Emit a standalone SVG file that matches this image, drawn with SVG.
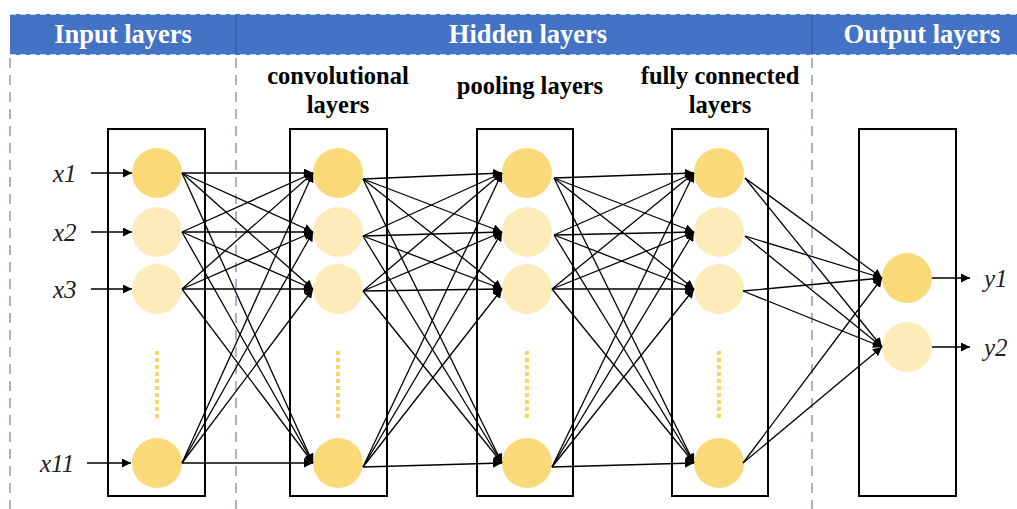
<svg xmlns="http://www.w3.org/2000/svg" width="1017" height="509" viewBox="0 0 1017 509">
<defs>
<marker id="ah" viewBox="0 0 10 10" refX="10" refY="5" markerWidth="9" markerHeight="9" markerUnits="userSpaceOnUse" orient="auto"><path d="M0,0 L10,5 L0,10 z" fill="#000"/></marker>
</defs>
<style>
text{font-family:"Liberation Serif","Times New Roman","DejaVu Serif",serif}
.hdr{font-weight:bold;font-size:26.5px;fill:#fff;text-anchor:middle}
.sub{font-weight:bold;font-size:24.5px;fill:#000;text-anchor:middle}
.var{font-style:italic;font-size:25px;fill:#222}
.box{fill:none;stroke:#000;stroke-width:2}
.dk{fill:#FAD978}
.lt{fill:#FDEBBA}
.sep{stroke:#8C9BB0;stroke-width:1.5;stroke-dasharray:10 7;fill:none}
.e line{stroke:#000;stroke-width:1.3;marker-end:url(#ah)}
.dots{stroke:#F8D46A;stroke-width:4;stroke-dasharray:4 3}
</style>
<rect width="1017" height="509" fill="#fff"/>
<g id="header">
<rect x="10" y="14" width="1007" height="41" fill="#4472C4"/>
<line x1="10" y1="14.5" x2="1017" y2="14.5" stroke="#c9d3e8" stroke-width="1" stroke-dasharray="6 4"/>
<line x1="10" y1="54.5" x2="1017" y2="54.5" stroke="#c9d3e8" stroke-width="1" stroke-dasharray="6 4"/>
<line x1="236" y1="14" x2="236" y2="55" stroke="#2f5597" stroke-width="1"/>
<line x1="812" y1="14" x2="812" y2="55" stroke="#2f5597" stroke-width="1"/>
<text class="hdr" x="123" y="43">Input layers</text>
<text class="hdr" x="528" y="43">Hidden layers</text>
<text class="hdr" x="922" y="43">Output layers</text>
</g>
<g id="separators">
<line class="sep" x1="10" y1="58" x2="10" y2="509"/>
<line class="sep" x1="236" y1="58" x2="236" y2="509"/>
<line class="sep" x1="812" y1="58" x2="812" y2="509"/>
</g>
<g id="labels">
<text class="sub" x="338" y="84">convolutional</text>
<text class="sub" x="338" y="113">layers</text>
<text class="sub" x="530" y="94">pooling layers</text>
<text class="sub" x="720" y="84">fully connected</text>
<text class="sub" x="720" y="113">layers</text>
</g>
<g id="input-layer">
<rect class="box" x="108" y="129" width="97" height="367"/>
<circle class="dk" cx="157" cy="173" r="25"/>
<circle class="lt" cx="157" cy="232" r="25"/>
<circle class="lt" cx="157" cy="289" r="25"/>
<line class="dots" x1="157" y1="351" x2="157" y2="420"/>
<circle class="dk" cx="157" cy="463" r="25"/>
</g>
<g id="conv-layer">
<rect class="box" x="290" y="129" width="97" height="367"/>
<circle class="dk" cx="338" cy="173" r="25"/>
<circle class="lt" cx="338" cy="232" r="25"/>
<circle class="lt" cx="338" cy="289" r="25"/>
<line class="dots" x1="338" y1="351" x2="338" y2="420"/>
<circle class="dk" cx="338" cy="463" r="25"/>
</g>
<g id="pool-layer">
<rect class="box" x="477" y="129" width="96" height="367"/>
<circle class="dk" cx="527" cy="173" r="25"/>
<circle class="lt" cx="527" cy="232" r="25"/>
<circle class="lt" cx="527" cy="289" r="25"/>
<line class="dots" x1="527" y1="351" x2="527" y2="420"/>
<circle class="dk" cx="527" cy="463" r="25"/>
</g>
<g id="fc-layer">
<rect class="box" x="672" y="129" width="96" height="367"/>
<circle class="dk" cx="719" cy="173" r="25"/>
<circle class="lt" cx="719" cy="232" r="25"/>
<circle class="lt" cx="719" cy="289" r="25"/>
<line class="dots" x1="719" y1="351" x2="719" y2="420"/>
<circle class="dk" cx="719" cy="463" r="25"/>
</g>
<g id="output-layer">
<rect class="box" x="859" y="129" width="97" height="367"/>
<circle class="dk" cx="907" cy="278" r="25"/>
<circle class="lt" cx="907" cy="347" r="25"/>
</g>
<g id="io-labels">
<text class="var" x="53" y="182">x1</text>
<text class="var" x="53" y="241">x2</text>
<text class="var" x="53" y="298">x3</text>
<text class="var" x="40" y="472">x11</text>
<text class="var" x="984" y="287">y1</text>
<text class="var" x="984" y="356">y2</text>
</g>
<g id="connectors" class="e">
<line x1="91" y1="173" x2="132" y2="173"/>
<line x1="91" y1="232" x2="132" y2="232"/>
<line x1="91" y1="289" x2="132" y2="289"/>
<line x1="87" y1="463" x2="131" y2="463"/>
<line x1="932" y1="278" x2="970" y2="278"/>
<line x1="932" y1="347" x2="970" y2="347"/>
<line x1="182" y1="173" x2="313" y2="173"/><line x1="182" y1="173" x2="313" y2="232"/><line x1="182" y1="173" x2="313" y2="289"/><line x1="182" y1="173" x2="313" y2="463"/>
<line x1="182" y1="232" x2="313" y2="173"/><line x1="182" y1="232" x2="313" y2="232"/><line x1="182" y1="232" x2="313" y2="289"/><line x1="182" y1="232" x2="313" y2="463"/>
<line x1="182" y1="289" x2="313" y2="173"/><line x1="182" y1="289" x2="313" y2="232"/><line x1="182" y1="289" x2="313" y2="289"/><line x1="182" y1="289" x2="313" y2="463"/>
<line x1="182" y1="463" x2="313" y2="173"/><line x1="182" y1="463" x2="313" y2="232"/><line x1="182" y1="463" x2="313" y2="289"/><line x1="182" y1="463" x2="313" y2="463"/>
<line x1="363" y1="179" x2="502" y2="173"/><line x1="363" y1="179" x2="502" y2="232"/><line x1="363" y1="179" x2="502" y2="289"/><line x1="363" y1="179" x2="502" y2="463"/>
<line x1="363" y1="236" x2="502" y2="173"/><line x1="363" y1="236" x2="502" y2="232"/><line x1="363" y1="236" x2="502" y2="289"/><line x1="363" y1="236" x2="502" y2="463"/>
<line x1="363" y1="291" x2="502" y2="173"/><line x1="363" y1="291" x2="502" y2="232"/><line x1="363" y1="291" x2="502" y2="289"/><line x1="363" y1="291" x2="502" y2="463"/>
<line x1="363" y1="467" x2="502" y2="173"/><line x1="363" y1="467" x2="502" y2="232"/><line x1="363" y1="467" x2="502" y2="289"/><line x1="363" y1="467" x2="502" y2="463"/>
<line x1="554" y1="178" x2="694" y2="173"/><line x1="554" y1="178" x2="694" y2="232"/><line x1="554" y1="178" x2="694" y2="289"/><line x1="554" y1="178" x2="694" y2="463"/>
<line x1="554" y1="235" x2="694" y2="173"/><line x1="554" y1="235" x2="694" y2="232"/><line x1="554" y1="235" x2="694" y2="289"/><line x1="554" y1="235" x2="694" y2="463"/>
<line x1="552" y1="289" x2="694" y2="173"/><line x1="552" y1="289" x2="694" y2="232"/><line x1="552" y1="289" x2="694" y2="289"/><line x1="552" y1="289" x2="694" y2="463"/>
<line x1="552" y1="467" x2="694" y2="173"/><line x1="552" y1="467" x2="694" y2="232"/><line x1="552" y1="467" x2="694" y2="289"/><line x1="552" y1="467" x2="694" y2="463"/>
<line x1="745" y1="178" x2="882" y2="278"/><line x1="745" y1="178" x2="882" y2="347"/>
<line x1="745" y1="236" x2="882" y2="278"/><line x1="745" y1="236" x2="882" y2="347"/>
<line x1="743" y1="291" x2="882" y2="278"/><line x1="743" y1="291" x2="882" y2="347"/>
<line x1="743" y1="463" x2="882" y2="278"/><line x1="743" y1="463" x2="882" y2="347"/>
</g>
</svg>
